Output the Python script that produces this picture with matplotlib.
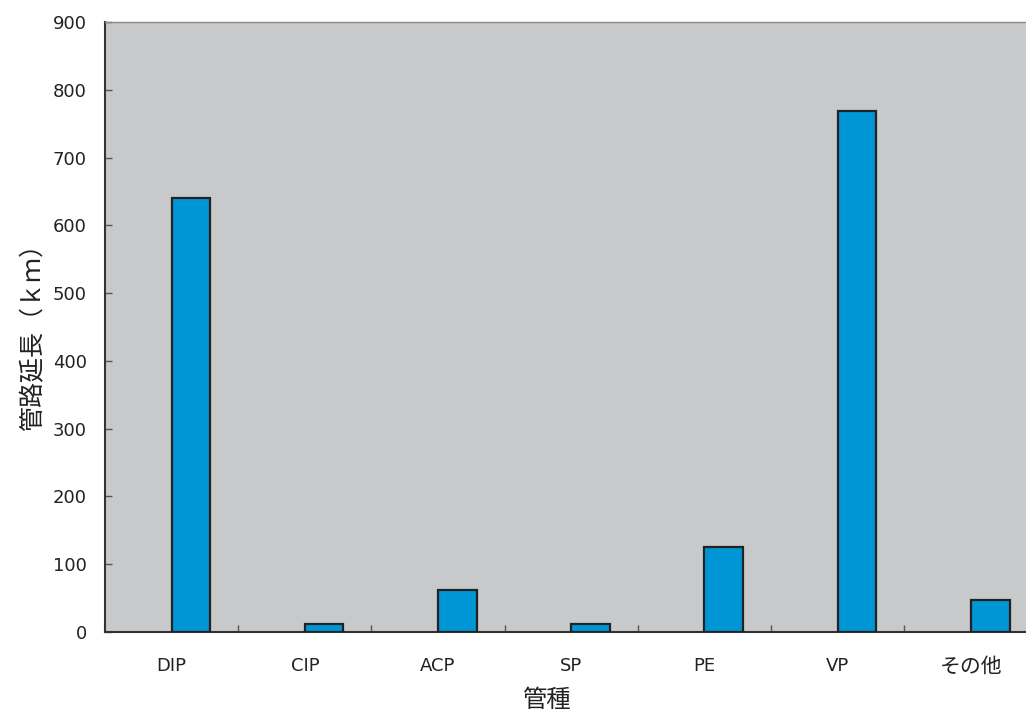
import matplotlib
matplotlib.use("Agg")
import matplotlib.pyplot as plt

# Pipe length by pipe material
categories = ["DIP", "CIP", "ACP", "SP", "PE", "VP", "その他"]
lengths_km = [641, 12, 62, 12, 125, 768, 47]
y_ticks = [0, 100, 200, 300, 400, 500, 600, 700, 800, 900]

TICK_FONT = ["DejaVu Sans", "Noto Sans CJK JP"]

fig = plt.figure(figsize=(10.26, 7.16), dpi=100)
W, H = 1026, 716
left, right, top, bottom = 105, 1037.5, 22, 632
ax = fig.add_axes([left / W, 1 - bottom / H, (right - left) / W, (bottom - top) / H])
ax.set_facecolor("#c8c9cb")

x = list(range(len(categories)))
ax.bar(x, lengths_km, width=0.29, align="edge", color="#0096d6",
       edgecolor="#222222", linewidth=1.6, zorder=3)

ax.set_xlim(-0.5, len(categories) - 0.5)
ax.set_ylim(0, 900)
ax.set_yticks(y_ticks)
ax.set_yticklabels([str(v) for v in y_ticks], fontfamily=TICK_FONT,
                   fontsize=13, color="#222222")

# Category labels sit at the centres; tick marks at the boundaries
ax.set_xticks(x)
labels = ax.set_xticklabels(categories, fontfamily=TICK_FONT, fontsize=13,
                            color="#222222")
for lab in labels:
    if not lab.get_text().isascii():
        lab.set_fontsize(15)
ax.tick_params(axis="x", which="major", length=0, pad=18)
ax.set_xticks([i + 0.5 for i in x[:-1]], minor=True)
ax.tick_params(axis="x", which="minor", direction="in", length=5,
               width=1, color="#555555")
ax.tick_params(axis="y", direction="in", length=5, width=1,
               color="#555555", pad=13)

for s in ["left", "bottom"]:
    ax.spines[s].set_color("#333333")
    ax.spines[s].set_linewidth(1.5)
ax.spines["top"].set_color("#8a8a8a")
ax.spines["top"].set_linewidth(1.0)
ax.spines["right"].set_visible(False)

fig.text(33 / W, 1 - 331 / H, "管路延長（ｋｍ）", rotation=90, ha="center",
         va="center", fontfamily="Noto Sans CJK JP", fontsize=18, color="#222222")
fig.text(546 / W, 1 - 700 / H, "管種", ha="center", va="center",
         fontfamily="Noto Sans CJK JP", fontsize=17.5, color="#222222")

fig.savefig("out.png", dpi=100)
